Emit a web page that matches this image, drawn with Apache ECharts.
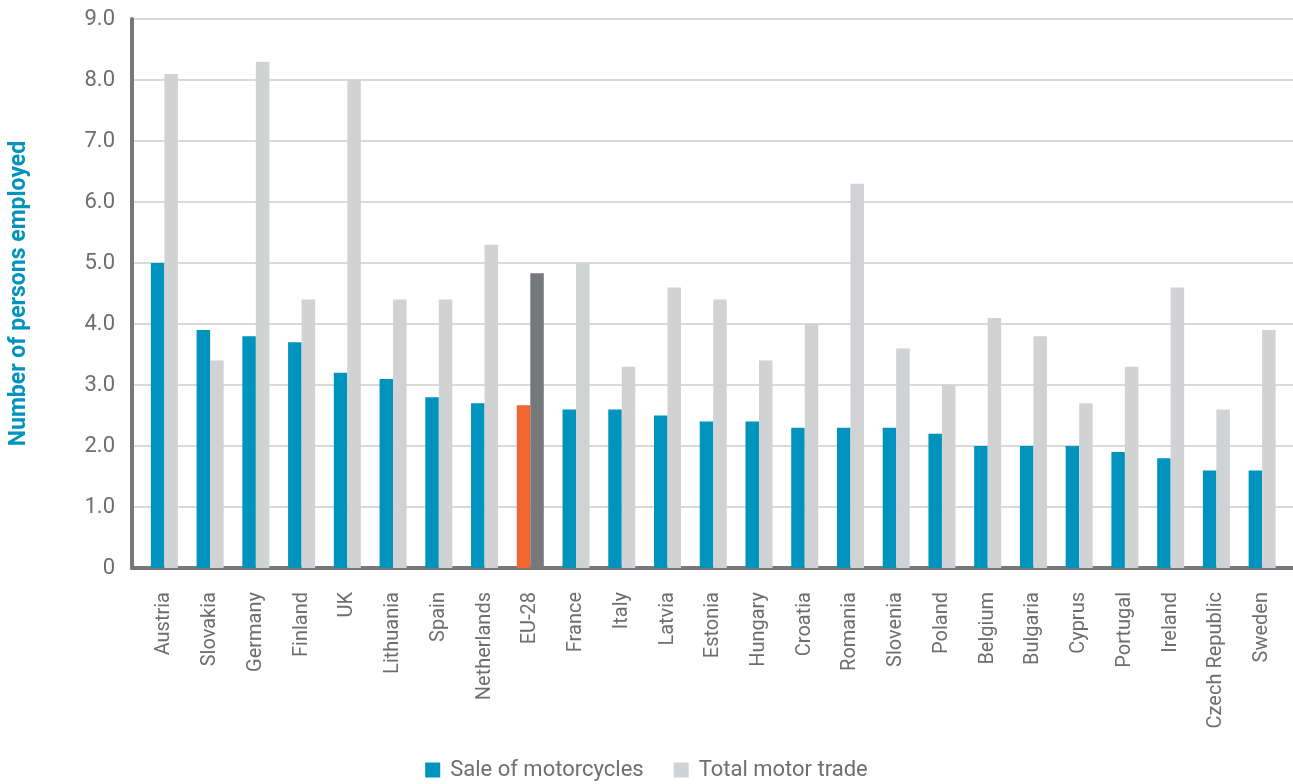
<!DOCTYPE html>
<html>
<head>
<meta charset="utf-8">
<script src="https://cdn.jsdelivr.net/npm/echarts@6/dist/echarts.min.js"></script>
<style>
  html, body { margin: 0; padding: 0; background: #fff; }
  #chart { width: 1293px; height: 784px; }
</style>
</head>
<body>
<div id="chart"></div>
<script>
const categories = ['Austria', 'Slovakia', 'Germany', 'Finland', 'UK', 'Lithuania', 'Spain',
  'Netherlands', 'EU-28', 'France', 'Italy', 'Latvia', 'Estonia', 'Hungary', 'Croatia',
  'Romania', 'Slovenia', 'Poland', 'Belgium', 'Bulgaria', 'Cyprus', 'Portugal', 'Ireland',
  'Czech Republic', 'Sweden'];
const motorcycles = [5.0, 3.9, 3.8, 3.7, 3.2, 3.1, 2.8, 2.7, 2.67, 2.6, 2.6, 2.5, 2.4, 2.4, 2.3,
  2.3, 2.3, 2.2, 2.0, 2.0, 2.0, 1.9, 1.8, 1.6, 1.6];
const motorTrade = [8.1, 3.4, 8.3, 4.4, 8.0, 4.4, 4.4, 5.3, 4.83, 5.0, 3.3, 4.6, 4.4, 3.4, 4.0,
  6.3, 3.6, 3.0, 4.1, 3.8, 2.7, 3.3, 4.6, 2.6, 3.9];
const yTicks = [0, 1, 2, 3, 4, 5, 6, 7, 8, 9];

const BLUE = '#0093bd';
const LIGHT = '#d1d2d4';
const ORANGE = '#f06530';
const DARK = '#77787b';
const TEXT = '#6d6e71';
const FONT = 'Roboto';

// EU-28 average gets its own colours
function withHighlight(values, color) {
  return values.map((v, i) => categories[i] === 'EU-28'
    ? { value: v, itemStyle: { color: color } }
    : v);
}

const chart = echarts.init(document.getElementById('chart'));

const option = {
  animation: false,
  textStyle: { fontFamily: FONT },
  // grid 0 holds the bars, grid 1 only draws axes + gridlines
  grid: [
    { left: 141.5, right: 8, top: 19, bottom: 216 },
    { left: 131, right: 0, top: 19, bottom: 216 }
  ],
  legend: {
    bottom: -2,
    left: 'center',
    itemWidth: 15,
    itemHeight: 15,
    itemGap: 30,
    icon: 'rect',
    textStyle: { color: TEXT, fontSize: 22, fontFamily: FONT, padding: [0, 0, 0, 5] },
    data: ['Sale of motorcycles', 'Total motor trade']
  },
  xAxis: [
    {
      type: 'category',
      gridIndex: 0,
      data: categories,
      axisLine: { show: false },
      axisTick: { show: false },
      axisLabel: {
        rotate: 90,
        color: TEXT,
        fontSize: 20,
        margin: 24,
        interval: 0
      }
    },
    {
      type: 'value',
      gridIndex: 1,
      min: 0,
      max: 1,
      axisLine: { show: true, lineStyle: { color: DARK, width: 4 } },
      axisTick: { show: false },
      axisLabel: { show: false },
      splitLine: { show: false }
    }
  ],
  yAxis: [
    {
      type: 'value',
      gridIndex: 0,
      min: 0,
      max: 9,
      interval: 1,
      axisLine: { show: false },
      axisTick: { show: false },
      axisLabel: { show: false },
      splitLine: { show: false }
    },
    {
      type: 'value',
      gridIndex: 1,
      min: yTicks[0],
      max: yTicks[yTicks.length - 1],
      interval: 1,
      name: 'Number of persons employed',
      nameLocation: 'middle',
      nameGap: 101,
      nameTextStyle: { color: BLUE, fontSize: 23, fontWeight: 'bold', fontFamily: FONT },
      axisLine: { show: true, lineStyle: { color: DARK, width: 4 } },
      axisTick: { show: false },
      axisLabel: {
        color: TEXT,
        fontSize: 22,
        margin: 17,
        formatter: v => v === 0 ? '0' : v.toFixed(1)
      },
      splitLine: { show: true, lineStyle: { color: '#d9d9da', width: 2 } }
    }
  ],
  series: [
    {
      name: 'Sale of motorcycles',
      type: 'bar',
      xAxisIndex: 0,
      yAxisIndex: 0,
      barWidth: 13.5,
      barGap: '0%',
      itemStyle: { color: BLUE },
      data: withHighlight(motorcycles, ORANGE)
    },
    {
      name: 'Total motor trade',
      type: 'bar',
      xAxisIndex: 0,
      yAxisIndex: 0,
      barWidth: 13.5,
      barGap: '0%',
      itemStyle: { color: LIGHT },
      data: withHighlight(motorTrade, DARK)
    }
  ]
};

chart.setOption(option);
window.addEventListener('resize', () => chart.resize());
</script>
</body>
</html>
